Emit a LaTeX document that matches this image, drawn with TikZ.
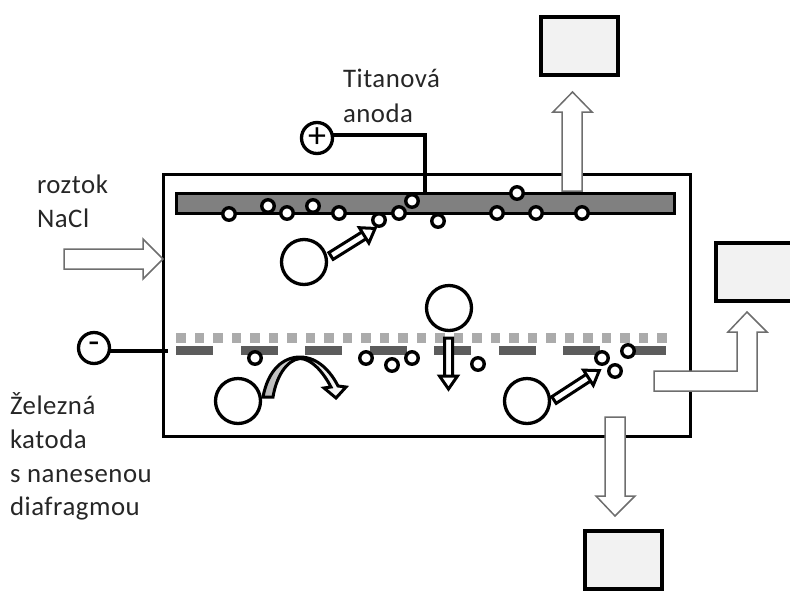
\documentclass[tikz,border=0pt]{standalone}
\usepackage{fontspec}
\setmainfont[LetterSpace=2]{Carlito}
\usetikzlibrary{positioning}

\definecolor{boxgray}{HTML}{F2F2F2}
\definecolor{anodegray}{HTML}{808080}
\definecolor{meshgray}{HTML}{ABABAB}
\definecolor{cathodegray}{HTML}{5C5C5C}
\definecolor{flowgray}{HTML}{6E6E6E}

\newcommand{\ionarrow}[4]{%
  \draw[ionflow, shift={(#1,#2)}, rotate=#3]
    (0,4) -- (#4-13,4) -- (#4-13,-9) -- (#4,0) -- (#4-13,9) -- (#4-13,-4) -- (0,-4) -- cycle;
}

\begin{document}
\begin{tikzpicture}[
    x=1pt,
    y=-1pt,
    semithick
]

\tikzstyle{every node}=[inner sep=0pt, outer sep=0pt]
\tikzstyle{label}=[anchor=base west, font=\fontsize{26.8}{30}\selectfont, text=black!85]
\tikzstyle{bigion}=[circle, draw=black, line width=3.3pt, fill=white, minimum size=45pt]
\tikzstyle{smallion}=[circle, draw=black, line width=3.4pt, fill=white, minimum size=12.5pt]
\tikzstyle{pole}=[circle, draw=black, line width=3.3pt, fill=white, minimum size=31pt, font=\fontsize{36}{36}\selectfont]
\tikzstyle{productbox}=[rectangle, draw=black, line width=4pt, fill=boxgray, minimum width=77pt, minimum height=58pt]
\tikzstyle{wire}=[line width=4pt, draw=black]
\tikzstyle{flow}=[draw=flowgray, line width=1.5pt, fill=white, line join=miter]
\tikzstyle{ionflow}=[draw=black, line width=3pt, fill=white, line join=miter, miter limit=3]

\clip (0,0) rectangle (790,590);

\node[rectangle, draw=black, line width=3pt, fill=white, minimum width=527pt, minimum height=262pt] (bath) at (426.5,305) {};
\node[rectangle, draw=black, line width=3pt, fill=anodegray, minimum width=498pt, minimum height=20pt] (anode) at (425,203.5) {};

\foreach \i in {0,...,26}
    \fill[meshgray] ({176+18.5*\i},333) rectangle ++(9.5,9.5);
\foreach \i in {0,...,6}
    \fill[cathodegray] ({176+64.5*\i},346) rectangle ++(37,9);
\fill[cathodegray] (630,346) rectangle (665.5,355);

\node[productbox] (topbox) at (579.5,46) {};
\node[productbox] (rightbox) at (754.5,272) {};
\node[productbox] (bottombox) at (623,560) {};

\draw[flow] (64,249) -- (143,249) -- (143,239) -- (163,259) -- (143,279) -- (143,269) -- (64,269) -- cycle;
\draw[flow] (562,191) -- (562,112) -- (553,112) -- (572.5,92) -- (592,112) -- (582,112) -- (582,191) -- cycle;
\draw[flow] (654,371) -- (737,371) -- (737,332) -- (728,332) -- (747,312) -- (767,332) -- (757,332) -- (757,391) -- (654,391) -- cycle;
\draw[flow] (605,417) -- (625,417) -- (625,496) -- (635,496) -- (615,516) -- (596,496) -- (605,496) -- cycle;

\node[bigion] (ionA) at (304,262) {};
\node[bigion] (ionB) at (449,308) {};
\node[bigion] (ionC) at (238,401) {};
\node[bigion] (ionD) at (527,401) {};

\foreach \x/\y [count=\i] in {229/214, 268/206, 287/213, 313/206, 339/213, 379/220, 399/213, 412/201, 438/221, 497/213, 517/193, 536/213, 582/213, 255/358, 366/358, 392/365, 412/358, 478/364, 602/358, 615/371, 628/351}
    \node[smallion] (small\i) at (\x,\y) {};

\ionarrow{331}{256}{32}{52}
\ionarrow{554}{400}{33}{54}
\ionarrow{448.5}{338}{-90}{51}

\draw[draw=black, line width=3pt, left color=black!28, right color=white, line join=miter, miter limit=3]
    (263,397) .. controls (268,370) and (283,357) .. (300,357)
    .. controls (318,357) and (331,372) .. (338,386)
    -- (346,387) -- (336,398) -- (324,388) -- (331,387)
    .. controls (323,372) and (312,359) .. (300,358.5)
    .. controls (286,360) and (276,378) .. (273,397) -- cycle;

\node[pole] (plus) at (317,138) {+};
\node[pole] (minus) at (94,348) {-};

\coordinate (anodetap) at (425,193);
\coordinate (cathodetap) at (168,351);
\draw[wire] (plus.10) -| (anodetap);
\draw[wire] (minus.east |- cathodetap) -- (cathodetap);

\node[label] (titan) at (343,87) {Titanová};
\node[label] (titanb) at (343,122) {anoda};
\node[label] (nacl) at (37,193) {roztok};
\node[label] (naclb) at (37,227) {NaCl};
\node[label] (iron) at (10,414) {Železná};
\node[label] (ironb) at (10,448) {katoda};
\node[label] (ironc) at (10,482) {s nanesenou};
\node[label] (irond) at (10,515) {diafragmou};

\end{tikzpicture}
\end{document}
